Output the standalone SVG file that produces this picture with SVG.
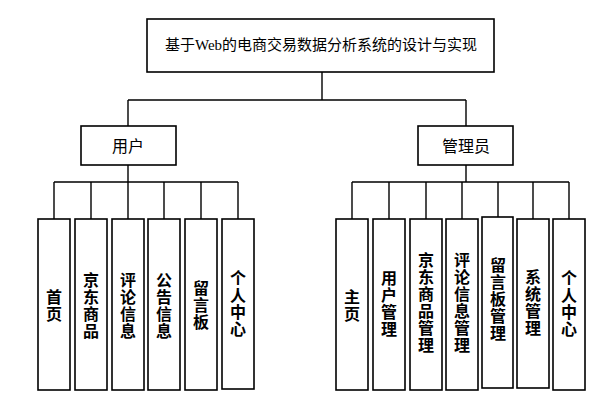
<svg xmlns="http://www.w3.org/2000/svg" width="610" height="403" viewBox="0 0 610 403">
<style>
.box{fill:#fff;stroke:#000;stroke-width:1.6}
.ln{fill:none;stroke:#000;stroke-width:1.4}
.t{font-family:"Noto Sans CJK SC","Liberation Sans",sans-serif;fill:#000;text-anchor:middle;dominant-baseline:central}
.title{font-size:15px;font-family:"Liberation Serif","Noto Sans CJK SC",serif}
.mid{font-size:16px}
.leaf{font-size:16px;font-weight:bold}
</style>
<rect width="610" height="403" fill="#fff"/>
<g id="connectors">
<path class="ln" d="M322 72V100M128 100H466M128 100V126M466 100V126"/>
<path class="ln" d="M128 165V182M54 182H238M54 182V219M91 182V219M128 182V219M164 182V219M201 182V219M238 182V219"/>
<path class="ln" d="M466 165V182M352 182H569M352 182V219M389 182V219M426 182V219M462 182V219M498 182V217M533 182V219M569 182V219"/>
</g>
<g id="root"><rect class="box" x="147" y="19" width="347" height="53"/><text class="t title" x="321" y="45">基于Web的电商交易数据分析系统的设计与实现</text></g>
<g id="user"><rect class="box" x="81" y="126" width="95" height="39"/><text class="t mid" x="128" y="145">用户</text></g>
<g id="admin"><rect class="box" x="418" y="126" width="95" height="39"/><text class="t mid" x="466" y="145">管理员</text></g>
<g id="u1"><rect class="box" x="38" y="219" width="32" height="171"/><text class="t leaf" x="54"><tspan x="54" y="296">首</tspan><tspan x="54" y="313">页</tspan></text></g>
<g id="u2"><rect class="box" x="75" y="219" width="32" height="171"/><text class="t leaf"><tspan x="91" y="279">京</tspan><tspan x="91" y="296">东</tspan><tspan x="91" y="313">商</tspan><tspan x="91" y="330">品</tspan></text></g>
<g id="u3"><rect class="box" x="112" y="219" width="32" height="171"/><text class="t leaf"><tspan x="128" y="279">评</tspan><tspan x="128" y="296">论</tspan><tspan x="128" y="313">信</tspan><tspan x="128" y="330">息</tspan></text></g>
<g id="u4"><rect class="box" x="148" y="219" width="32" height="171"/><text class="t leaf"><tspan x="164" y="279">公</tspan><tspan x="164" y="296">告</tspan><tspan x="164" y="313">信</tspan><tspan x="164" y="330">息</tspan></text></g>
<g id="u5"><rect class="box" x="185" y="219" width="32" height="171"/><text class="t leaf"><tspan x="201" y="287">留</tspan><tspan x="201" y="304">言</tspan><tspan x="201" y="321">板</tspan></text></g>
<g id="u6"><rect class="box" x="222" y="219" width="32" height="170"/><text class="t leaf"><tspan x="238" y="277">个</tspan><tspan x="238" y="294">人</tspan><tspan x="238" y="311">中</tspan><tspan x="238" y="328">心</tspan></text></g>
<g id="a1"><rect class="box" x="336" y="219" width="32" height="171"/><text class="t leaf"><tspan x="352" y="296">主</tspan><tspan x="352" y="313">页</tspan></text></g>
<g id="a2"><rect class="box" x="373" y="219" width="32" height="171"/><text class="t leaf"><tspan x="389" y="277">用</tspan><tspan x="389" y="294">户</tspan><tspan x="389" y="311">管</tspan><tspan x="389" y="328">理</tspan></text></g>
<g id="a3"><rect class="box" x="410" y="219" width="32" height="171"/><text class="t leaf"><tspan x="426" y="259">京</tspan><tspan x="426" y="276">东</tspan><tspan x="426" y="293">商</tspan><tspan x="426" y="310">品</tspan><tspan x="426" y="327">管</tspan><tspan x="426" y="344">理</tspan></text></g>
<g id="a4"><rect class="box" x="446" y="219" width="32" height="171"/><text class="t leaf"><tspan x="462" y="259">评</tspan><tspan x="462" y="276">论</tspan><tspan x="462" y="293">信</tspan><tspan x="462" y="310">息</tspan><tspan x="462" y="327">管</tspan><tspan x="462" y="344">理</tspan></text></g>
<g id="a5"><rect class="box" x="482" y="217" width="31" height="171"/><text class="t leaf"><tspan x="498" y="264">留</tspan><tspan x="498" y="281">言</tspan><tspan x="498" y="298">板</tspan><tspan x="498" y="315">管</tspan><tspan x="498" y="332">理</tspan></text></g>
<g id="a6"><rect class="box" x="517" y="219" width="32" height="169"/><text class="t leaf"><tspan x="533" y="276">系</tspan><tspan x="533" y="293">统</tspan><tspan x="533" y="310">管</tspan><tspan x="533" y="327">理</tspan></text></g>
<g id="a7"><rect class="box" x="553" y="219" width="32" height="171"/><text class="t leaf"><tspan x="569" y="277">个</tspan><tspan x="569" y="294">人</tspan><tspan x="569" y="311">中</tspan><tspan x="569" y="328">心</tspan></text></g>
</svg>
